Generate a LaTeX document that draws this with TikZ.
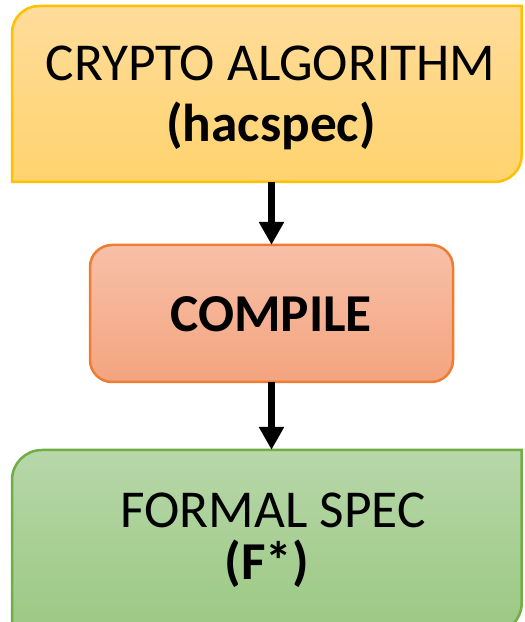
\documentclass[tikz,border=0pt]{standalone}
\usepackage{fontspec}
\setmainfont{Carlito}
\usetikzlibrary{arrows.meta}
\definecolor{ytop}{HTML}{FFDC9A}
\definecolor{ybot}{HTML}{FFD36E}
\definecolor{yline}{HTML}{FFC000}
\definecolor{otop}{HTML}{F7C0A8}
\definecolor{obot}{HTML}{F4A47F}
\definecolor{oline}{HTML}{ED7D31}
\definecolor{gtop}{HTML}{B7D7A9}
\definecolor{gbot}{HTML}{9BC882}
\definecolor{gline}{HTML}{70AD47}
\tikzset{
  boxn/.style={inner sep=0pt, draw=none},
  boxline/.style={line width=2.5pt},
  lbl/.style={anchor=base, inner sep=0pt, font=\fontsize{53.3}{61}\selectfont},
  lblb/.style={lbl, font=\fontsize{53.3}{61}\selectfont\bfseries},
  flow/.style={line width=7pt, -{Triangle[width=24pt,length=23pt]}}
}
\begin{document}
\begin{tikzpicture}[x=1pt,y=1pt]
\clip (0,0) rectangle (525,622);
\fill[white] (0,0) rectangle (525,622);
% invisible box nodes
\node[boxn, minimum width=509.7pt, minimum height=176pt] (algo) at (266.85,528) {};
\node[boxn, minimum width=363pt, minimum height=137pt] (comp) at (271.5,308.5) {};
\node[boxn, minimum width=509.7pt, minimum height=183pt] (spec) at (266.85,80.5) {};
% top box
\path[boxline, draw=yline, top color=ytop, bottom color=ybot]
  (12,440) -- (12,589) arc[start angle=180,end angle=90,radius=27]
  -- (521.7,616) -- (521.7,467) arc[start angle=0,end angle=-90,radius=27] -- cycle;
% middle box
\path[boxline, draw=oline, top color=otop, bottom color=obot, rounded corners=22pt]
  (90,240) rectangle (453,377);
% bottom box
\path[boxline, draw=gline, top color=gtop, bottom color=gbot]
  (12,-11) -- (12,142) arc[start angle=180,end angle=90,radius=30]
  -- (521.7,172) -- (521.7,19) arc[start angle=0,end angle=-90,radius=30] -- cycle;
% texts
\node[lbl] (t1) at (270.5,541) {CRYPTO ALGORITHM};
\node[lblb] (t2) at (271,480) {(hacspec)};
\node[lblb] (t3) at (271,290) {COMPILE};
\node[lbl] (t4) at (273,94) {FORMAL SPEC};
\node[lblb] (t5) at (267,42) {(F*)};
% arrows
\draw[flow] (algo.south -| comp.north) -- (comp.north);
\draw[flow] (comp.south) -- (comp.south |- spec.north);
\end{tikzpicture}
\end{document}
